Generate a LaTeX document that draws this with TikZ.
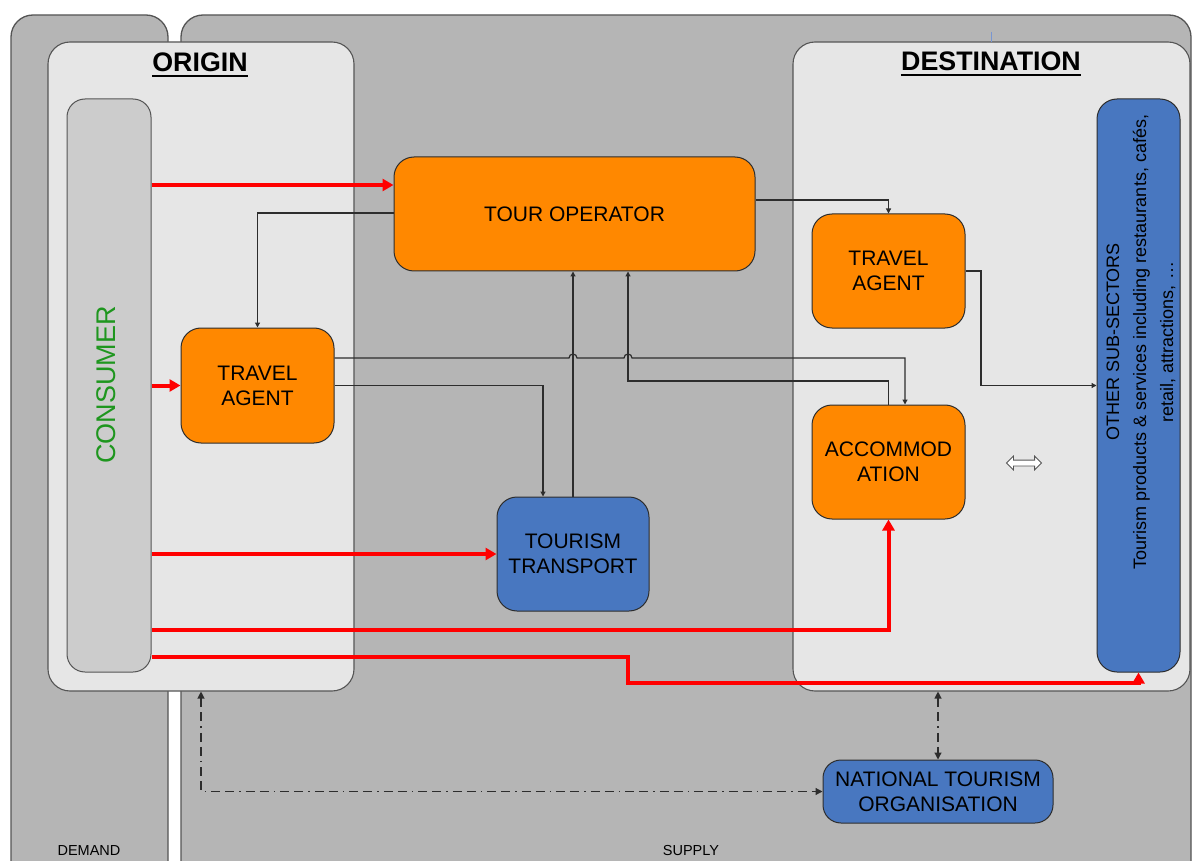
\documentclass[tikz,border=0pt]{standalone}
\usepackage{fontspec}
\setmainfont{Liberation Sans}
\usetikzlibrary{arrows.meta,shapes.arrows}
\definecolor{panelgray}{RGB}{181,181,181}
\definecolor{lightpanel}{RGB}{230,230,230}
\definecolor{consgray}{RGB}{204,204,204}
\definecolor{boxorange}{RGB}{255,136,0}
\definecolor{boxblue}{RGB}{72,119,192}
\definecolor{consgreen}{RGB}{30,150,30}
\definecolor{flowred}{RGB}{255,0,0}
\definecolor{edgegray}{RGB}{85,85,85}
\definecolor{linegray}{RGB}{45,45,45}
\begin{document}
\begin{tikzpicture}[x=1pt,y=-1pt,
  panel/.style={draw=edgegray, line width=1.3pt, fill=panelgray, rounded corners=22pt, inner sep=0pt},
  area/.style={draw=edgegray, line width=1.1pt, fill=lightpanel, rounded corners=22pt, inner sep=0pt},
  obox/.style={draw=linegray, line width=1pt, fill=boxorange, rounded corners=20pt, inner sep=0pt, align=center, font=\fontsize{21}{25}\selectfont},
  bbox/.style={draw=linegray, line width=1pt, fill=boxblue, rounded corners=20pt, inner sep=0pt, align=center, font=\fontsize{21}{25}\selectfont},
  title/.style={inner sep=0pt, anchor=base, font=\fontsize{26.8}{30}\selectfont\bfseries},
  redflow/.style={draw=flowred, line width=4pt, -{Triangle[length=11pt,width=12pt]}},
  thin/.style={draw=linegray, line width=1.2pt, -{Triangle[length=5pt,width=5pt]}},
  dashdot/.style={draw=linegray, line width=1.2pt, dash pattern=on 9pt off 5pt on 9pt off 5pt on 1.5pt off 5pt, {Triangle[length=7pt,width=7pt]}-{Triangle[length=7pt,width=7pt]}},
  smalllabel/.style={inner sep=0pt, font=\fontsize{14.5}{16}\selectfont}
]
\useasboundingbox (0,0) rectangle (1192,861);
\fill[white] (0,0) rectangle (1192,861);

% panels
\node[panel, minimum width=157pt, minimum height=870pt] (demand) at (89.5,450) {};
\node[panel, minimum width=1010pt, minimum height=870pt] (supply) at (686,450) {};
\node[smalllabel] (demandlbl) at (89,851) {DEMAND};
\node[smalllabel] (supplylbl) at (691,851) {SUPPLY};

% areas
\node[area, minimum width=306pt, minimum height=649pt] (origin) at (201,366.5) {};
\node[area, minimum width=397pt, minimum height=649pt] (dest) at (991.5,366.5) {};
\draw[draw={rgb,255:red,120;green,150;blue,210}, line width=1pt] (991,32) -- (991,42);

\node[title] (origintitle) at (200,72) {ORIGIN};
\node[title] (desttitle) at (991,71) {DESTINATION};
\draw[line width=2pt] ([yshift=-4.5pt]origintitle.base west) -- ([yshift=-4.5pt]origintitle.base east);
\draw[line width=2pt] ([yshift=-4.5pt]desttitle.base west) -- ([yshift=-4.5pt]desttitle.base east);

% consumer
\node[draw=edgegray, line width=1pt, fill=consgray, rounded corners=18pt, minimum width=84pt, minimum height=573pt, inner sep=0pt] (consumer) at (109,385.5) {};
\node[rotate=90, inner sep=0pt, text=consgreen, font=\fontsize{27}{30}\selectfont] (consumertxt) at (106,385) {CONSUMER};

% other sub-sectors
\node[bbox, minimum width=83pt, minimum height=573pt] (other) at (1138.5,385.5) {};
\node[rotate=90, inner sep=0pt, align=center, font=\fontsize{18}{27}\selectfont] (othertxt) at (1141,342) {OTHER SUB-SECTORS\\Tourism products \& services including restaurants, cafés,\\retail, attractions, …};

% boxes
\node[obox, minimum width=361pt, minimum height=114pt] (tourop) at (574.5,214) {TOUR OPERATOR};
\node[obox, minimum width=153pt, minimum height=115pt] (ta1) at (257.5,385.5) {TRAVEL\\AGENT};
\node[obox, minimum width=153pt, minimum height=114pt] (ta2) at (888.5,271) {TRAVEL\\AGENT};
\node[obox, minimum width=153pt, minimum height=114pt] (acc) at (888.5,462) {ACCOMMOD\\ATION};
\node[bbox, minimum width=152pt, minimum height=114pt] (tt) at (573,554) {TOURISM\\TRANSPORT};
\node[bbox, rounded corners=18pt, minimum width=230pt, minimum height=63pt] (nto) at (938,791.5) {NATIONAL TOURISM\\ORGANISATION};

\node[double arrow, draw=edgegray, fill=white, line width=0.8pt, minimum height=35pt, inner sep=2.5pt, double arrow head extend=4pt] (dbl) at (1024,463) {};

% thin black connectors
\draw[thin] (tourop.west |- 0,213) -| (ta1.north);
\draw[thin] (ta1.east |- 0,358) -- (569,358) arc[start angle=180, end angle=0, radius=4pt] -- (624,358) arc[start angle=180, end angle=0, radius=4pt] -- (905,358) -- (acc.north -| 905,0);
\draw[thin] (ta1.east) -| (tt.north -| 543,0);
\draw[thin] (tt.north) -- (tourop.south -| tt.north);
\draw[thin] (acc.north) -- (acc.north |- 0,381) -| (tourop.south -| 628,0);
\draw[thin] (tourop.east |- 0,200) -| (ta2.north);
\draw[thin] (ta2.east) -| (981,385.5) -- (other.west);

% red flows
\draw[redflow] (consumer.east |- 0,185) -- (tourop.west |- 0,185);
\draw[redflow] (consumer.east |- ta1.west) -- (ta1.west);
\draw[redflow] (consumer.east |- tt.west) -- (tt.west);
\draw[redflow] (consumer.east |- 0,630) -| (acc.south);
\draw[redflow] (consumer.east |- 0,657) -| (628,683) -| (other.south);

% dash-dot links
\draw[dashdot] (origin.south) |- (nto.west);
\draw[dashdot] (nto.north |- dest.south) -- (nto.north);
\end{tikzpicture}
\end{document}
